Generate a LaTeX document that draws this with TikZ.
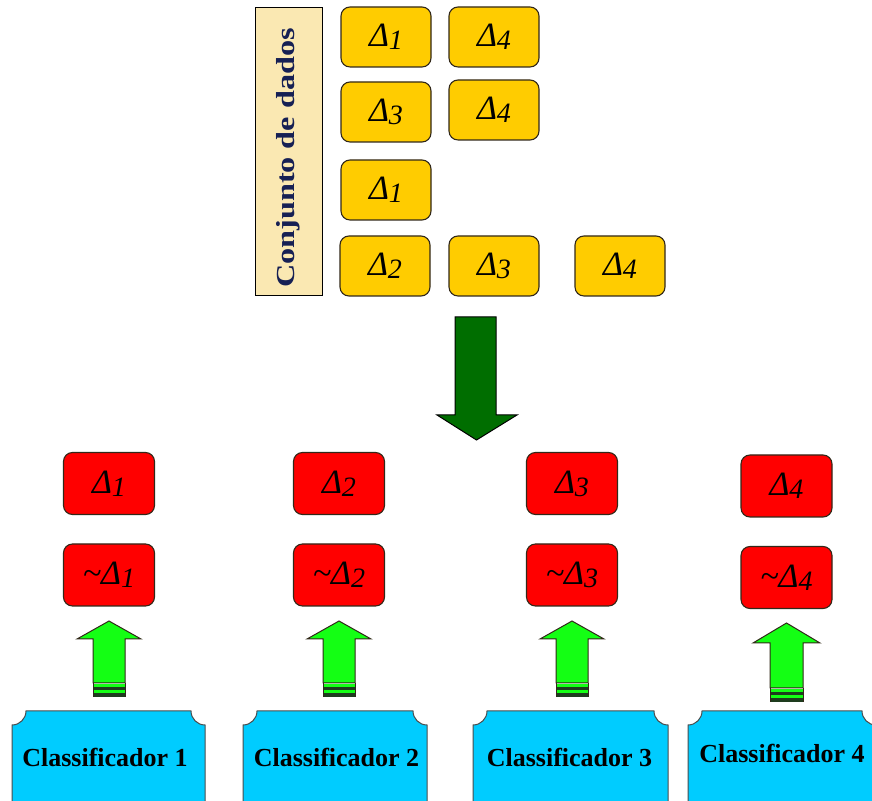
\documentclass[tikz,border=0pt]{standalone}
\usepackage{fontspec}
\setmainfont{Liberation Serif}
\usetikzlibrary{calc}

\definecolor{setfill}{RGB}{250,232,178}
\definecolor{settext}{RGB}{22,32,84}
\definecolor{dataYellow}{RGB}{255,204,0}
\definecolor{classRed}{RGB}{255,0,0}
\definecolor{bigGreen}{RGB}{0,110,0}
\definecolor{liteGreen}{RGB}{20,255,20}
\definecolor{bandDark}{RGB}{30,60,30}
\definecolor{clsCyan}{RGB}{0,204,255}
\definecolor{edge}{RGB}{50,40,25}

% Delta labels: italic Delta with a lowered italic index
\newcommand{\dlt}[1]{\raisebox{-3pt}{\fontsize{34}{34}\selectfont\itshape Δ\raisebox{-3pt}{\fontsize{28}{28}\selectfont #1}}}
\newcommand{\ndlt}[1]{\raisebox{-3pt}{\fontsize{34}{34}\selectfont\itshape \textasciitilde Δ\raisebox{-3pt}{\fontsize{28}{28}\selectfont #1}}}

% rectangle with concave (inward) corners, left x1, right x2, top yt, bottom yb, corner radius r
\newcommand{\concavebox}[5]{%
  \draw[clsbody] ({#1+#5},#3) -- ({#2-#5},#3)
    arc[start angle=180,end angle=270,radius=#5] -- (#2,{#4+#5})
    arc[start angle=90,end angle=180,radius=#5] -- ({#1+#5},#4)
    arc[start angle=0,end angle=90,radius=#5] -- (#1,{#3-#5})
    arc[start angle=270,end angle=360,radius=#5] -- cycle;}

% upward block arrow with striped tail: centre x, tip y, head base y, shaft bottom y, head half width, shaft half width
\newcommand{\uparrowblock}[6]{%
  \draw[uparr] (#1,#2) -- ({#1+#5},#3) -- ({#1+#6},#3) -- ({#1+#6},#4)
     -- ({#1-#6},#4) -- ({#1-#6},#3) -- ({#1-#5},#3) -- cycle;
  \fill[liteGreen] ({#1-#6},{#4-0.6}) rectangle ({#1+#6},{#4-3.6});
  \fill[bandDark] ({#1-#6},{#4-3.6}) rectangle ({#1+#6},{#4-7.4});
  \fill[liteGreen] ({#1-#6},{#4-7.4}) rectangle ({#1+#6},{#4-10});
  \fill[bandDark] ({#1-#6},{#4-10}) rectangle ({#1+#6},{#4-14});
  \draw[edge,line width=0.8pt] ({#1-#6},{#4}) -- ({#1-#6},{#4-14}) ({#1+#6},{#4}) -- ({#1+#6},{#4-14});}

\tikzset{
  setbox/.style={draw=black, line width=1pt, fill=setfill, minimum width=67pt, minimum height=288pt, inner sep=0pt},
  settitle/.style={text=settext, font=\fontsize{26}{26}\selectfont\bfseries, rotate=90, inner sep=0pt},
  databox/.style={draw=edge, line width=1.1pt, fill=dataYellow, rounded corners=9pt, minimum width=90pt, minimum height=60pt, inner sep=0pt},
  classbox/.style={draw=edge, line width=1.1pt, fill=classRed, rounded corners=9pt, minimum width=91pt, minimum height=62pt, inner sep=0pt},
  clsbody/.style={draw=black!70, line width=1pt, fill=clsCyan},
  clstext/.style={font=\fontsize{26}{26}\selectfont\bfseries, text=black, inner sep=0pt},
  uparr/.style={draw=edge, line width=1pt, fill=liteGreen},
  downarr/.style={draw=black, line width=1pt, fill=bigGreen}
}

\begin{document}
\begin{tikzpicture}[x=1pt,y=1pt]
\useasboundingbox (0,0) rectangle (872,800);
\clip (0,0) rectangle (872,800);
\fill[white] (0,0) rectangle (872,800);

% data set label
\node[setbox] (set) at (288.5,648) {};
\node[settitle] (settitle) at ($(set.center)+(0,-6)$) {\scalebox{1.24}[1]{Conjunto de dados}};

% data items
\node[databox] (d1a) at (386,763) {\dlt{1}};
\node[databox] (d1b) at (494,763) {\dlt{4}};
\node[databox] (d2a) at (386,688) {\dlt{3}};
\node[databox] (d2b) at (494,690) {\dlt{4}};
\node[databox] (d3a) at (386,610) {\dlt{1}};
\node[databox] (d4a) at (385,534) {\dlt{2}};
\node[databox] (d4b) at (494,534) {\dlt{3}};
\node[databox] (d4c) at (620,534) {\dlt{4}};

% big downward arrow
\draw[downarr] (455,483) -- (496,483) -- (496,385) -- (517,385) -- (476.5,360)
   -- (437,385) -- (455,385) -- cycle;

% class labels
\node[classbox] (p1) at (109,316.5) {\dlt{1}};
\node[classbox] (n1) at (109,225) {\ndlt{1}};
\node[classbox] (p2) at (339,316.5) {\dlt{2}};
\node[classbox] (n2) at (339,225) {\ndlt{2}};
\node[classbox] (p3) at (572,316.5) {\dlt{3}};
\node[classbox] (n3) at (572,225) {\ndlt{3}};
\node[classbox] (p4) at (786.5,314) {\dlt{4}};
\node[classbox] (n4) at (786.5,222.5) {\ndlt{4}};

% upward arrows
\uparrowblock{109}{179}{161}{117}{32}{16}
\uparrowblock{339}{179}{161}{117}{32}{16}
\uparrowblock{572}{179}{161}{117}{32}{16}
\uparrowblock{786.5}{177}{157}{112}{33.5}{16.5}

% classifiers
\concavebox{12}{205}{89}{-20}{14}
\concavebox{243}{427}{89}{-20}{14}
\concavebox{473}{668}{89}{-20}{14}
\concavebox{688}{876}{89}{-20}{14}
\node[clstext] (c1) at (105,43) {Classificador 1};
\node[clstext] (c2) at (336.5,43) {Classificador 2};
\node[clstext] (c3) at (569.5,43) {Classificador 3};
\node[clstext] (c4) at (782,47) {Classificador 4};
\end{tikzpicture}
\end{document}
